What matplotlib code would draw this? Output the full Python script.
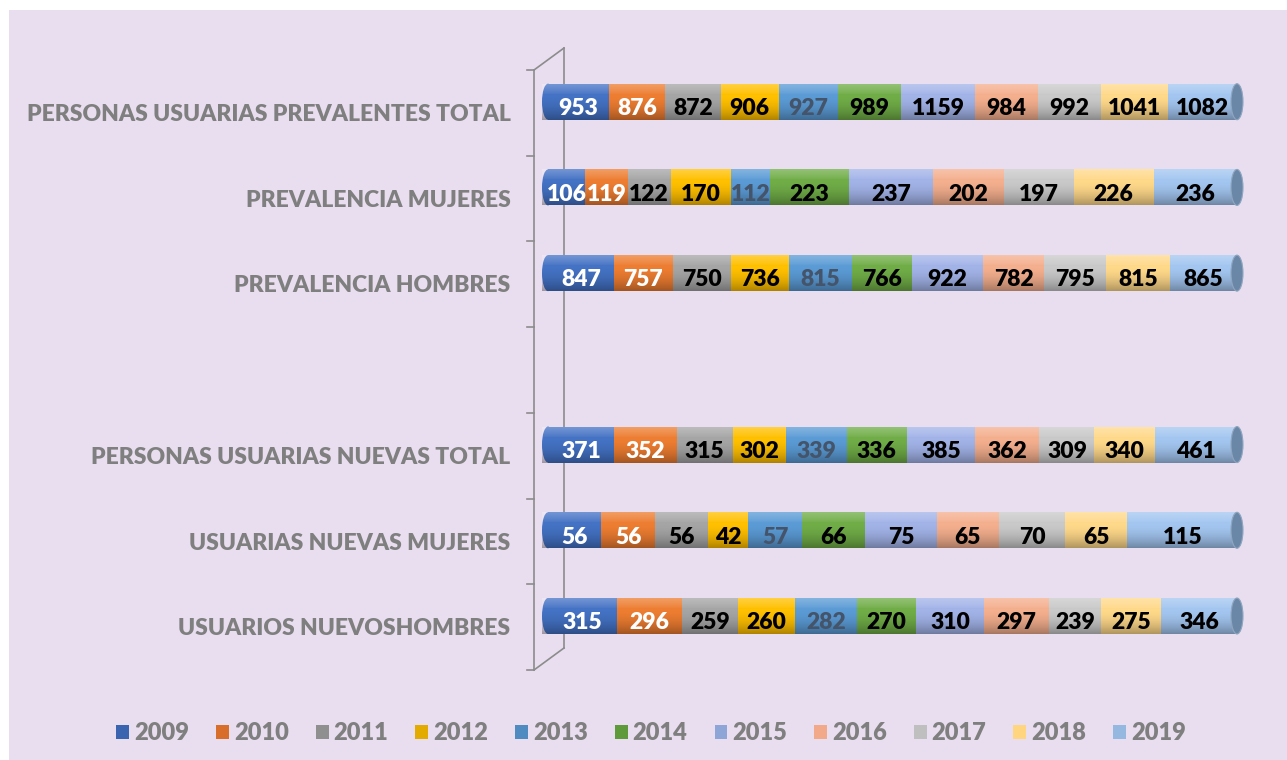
import numpy as np
import matplotlib.pyplot as plt
from matplotlib.patches import Ellipse, Rectangle, Patch
from matplotlib.lines import Line2D

plt.rcParams['font.family'] = ['Lato', 'DejaVu Sans']

# datos (de abajo hacia arriba)
categorias = ['USUARIOS NUEVOSHOMBRES', 'USUARIAS NUEVAS MUJERES',
              'PERSONAS USUARIAS NUEVAS TOTAL', '',
              'PREVALENCIA HOMBRES', 'PREVALENCIA MUJERES',
              'PERSONAS USUARIAS PREVALENTES TOTAL']
anios = ['2009', '2010', '2011', '2012', '2013', '2014', '2015', '2016', '2017', '2018', '2019']

nuevos_hombres = [315, 296, 259, 260, 282, 270, 310, 297, 239, 275, 346]
nuevas_mujeres = [56, 56, 56, 42, 57, 66, 75, 65, 70, 65, 115]
nuevas_total = [371, 352, 315, 302, 339, 336, 385, 362, 309, 340, 461]
vacio = [0] * 11
prev_hombres = [847, 757, 750, 736, 815, 766, 922, 782, 795, 815, 865]
prev_mujeres = [106, 119, 122, 170, 112, 223, 237, 202, 197, 226, 236]
prev_total = [953, 876, 872, 906, 927, 989, 1159, 984, 992, 1041, 1082]

filas = [nuevos_hombres, nuevas_mujeres, nuevas_total, vacio,
         prev_hombres, prev_mujeres, prev_total]

colores = ['#4472C4', '#ED7D31', '#A5A5A5', '#FFC000', '#5B9BD5', '#70AD47',
           '#A2B3E8', '#F4AF8E', '#C9C9C9', '#FFD98A', '#A3C6F0']
col_legend = ['#3B64B0', '#D96E2A', '#8F8F8F', '#E3AA00', '#4F8BC0', '#5F9A3A',
              '#8EA5D8', '#F2A98A', '#BFBFBF', '#FFD580', '#95B8E0']
col_texto = ['white', 'white', 'black', 'black', '#44546A', 'black',
             'black', 'black', 'black', 'black', 'black']

W, H = 1287, 760
fig = plt.figure(figsize=(W / 100, H / 100), dpi=100, facecolor='white')
fig.patches.append(Rectangle((9 / W, 0), 1 - 9 / W, 1 - 10 / H, transform=fig.transFigure,
                             facecolor='#E9DEEF', edgecolor='none', zorder=-10))

ax = fig.add_axes([548 / W, 90 / H, (1237 - 548) / W, 600 / H])
ax.set_facecolor('none')

alto = 0.42
desp = 0.13

# sombreado de cilindro
t = np.linspace(0, 1, 64)
grad = np.zeros((64, 1, 4))
arriba = t < 0.3
grad[arriba, 0, :3] = 1.0
grad[arriba, 0, 3] = 0.25 * (1 - t[arriba] / 0.3) ** 0.8
abajo = ~arriba
grad[abajo, 0, :3] = 0.0
grad[abajo, 0, 3] = 0.32 * ((t[abajo] - 0.3) / 0.7) ** 1.8

ancho_tapa = 12 / (1237 - 548)

for i, fila in enumerate(filas):
    total = sum(fila)
    if total == 0:
        continue
    y = i + desp
    pct = np.array(fila) / total
    izq = np.concatenate([[0], np.cumsum(pct)[:-1]])
    # extremo izquierdo redondeado
    ax.add_patch(Ellipse((0, y), ancho_tapa, alto, facecolor=colores[0],
                         edgecolor='none', zorder=1, clip_on=False))
    ax.barh([y] * len(pct), pct, left=izq, height=alto, color=colores,
            edgecolor='none', zorder=2)
    ax.imshow(grad, extent=(-ancho_tapa / 2, 1, y - alto / 2, y + alto / 2),
              aspect='auto', origin='upper', zorder=3, clip_on=False)
    # tapa derecha
    ax.add_patch(Ellipse((1, y), ancho_tapa, alto, facecolor='#6B87A8',
                         edgecolor='#8FA6C0', linewidth=0.8, zorder=4, clip_on=False))
    for j, v in enumerate(fila):
        ax.text(izq[j] + pct[j] / 2, y - 0.08, str(v), ha='center', va='center',
                fontsize=16.5, fontweight='heavy', color=col_texto[j], zorder=5)

for i, c in enumerate(categorias):
    ax.annotate(c, xy=(0, i - 0.02), xycoords=ax.get_yaxis_transform(),
                xytext=(-27, 0), textcoords='offset points', ha='right', va='center',
                fontsize=16.5, fontweight='heavy', color='#7F7F7F')

ax.set_xlim(0, 1)
ax.set_ylim(-0.5, 6.5)
ax.set_xticks([])
ax.set_yticks([])
for s in ax.spines.values():
    s.set_visible(False)

# ejes 3D (pared lateral)
def px(x, y):
    return x / W, 1 - y / H

gris = '#8C8C8C'
segmentos = [((534, 70), (534, 670)), ((534, 70), (564, 48)),
             ((534, 670), (564, 648)), ((564, 48), (564, 648))]
for k in range(8):
    yk = 70 + k * 600 / 7
    segmentos.append(((527, yk), (534, yk)))
for a, b in segmentos:
    (x0, y0), (x1, y1) = px(*a), px(*b)
    ax.add_line(Line2D([x0, x1], [y0, y1], transform=fig.transFigure, color=gris,
                       linewidth=1.2, zorder=0.5, clip_on=False))

handles = [Patch(facecolor=c, edgecolor='none') for c in col_legend]
leg = fig.legend(handles, anios, loc='center', bbox_to_anchor=(651 / W, 1 - 733 / H),
                 ncol=11, frameon=False, handlelength=0.55, handleheight=0.55,
                 handletextpad=0.2, columnspacing=1.15,
                 prop={'size': 17, 'weight': 'heavy'})
for txt in leg.get_texts():
    txt.set_color('#7F7F7F')

fig.savefig('out.png', dpi=100, facecolor=fig.get_facecolor())
